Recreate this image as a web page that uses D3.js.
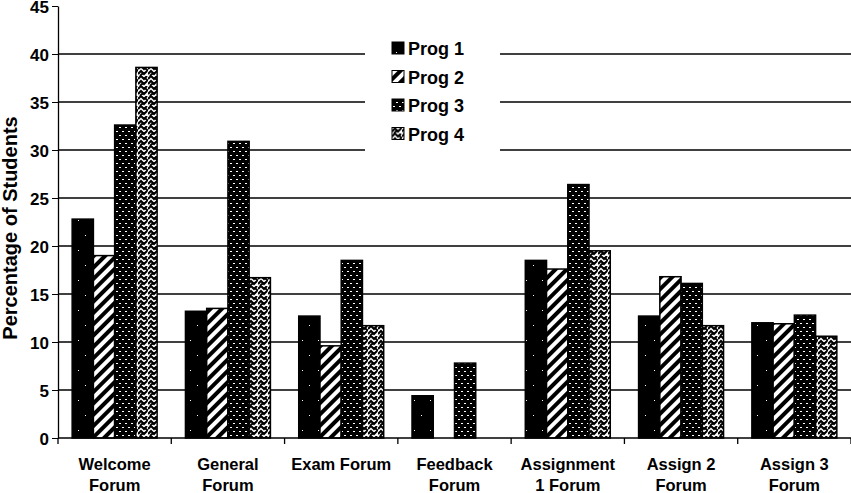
<!DOCTYPE html>
<html>
<head>
<meta charset="utf-8">
<script src="https://cdn.jsdelivr.net/npm/d3@7"></script>
<style>
  body { margin: 0; background: #fff; }
  text { font-family: "Liberation Sans", Arial, sans-serif; font-weight: bold; fill: #000; }
</style>
</head>
<body>
<div class="chart"></div>
<script>
let categories = [
  ["Welcome", "Forum"],
  ["General", "Forum"],
  ["Exam Forum"],
  ["Feedback", "Forum"],
  ["Assignment", "1 Forum"],
  ["Assign 2", "Forum"],
  ["Assign 3", "Forum"]
];
let seriesNames = ["Prog 1", "Prog 2", "Prog 3", "Prog 4"];
let prog1 = [22.8, 13.2, 12.7, 4.4, 18.5, 12.7, 12.0];
let prog2 = [19.0, 13.5, 9.6, 0, 17.6, 16.8, 11.9];
let prog3 = [32.6, 30.9, 18.5, 7.8, 26.4, 16.1, 12.8];
let prog4 = [38.6, 16.7, 11.7, 0, 19.5, 11.7, 10.6];
let yTicks = [0, 5, 10, 15, 20, 25, 30, 35, 40, 45];

let seriesValues = [prog1, prog2, prog3, prog4];
let patternIds = ["p1", "p2", "p3", "p4"];

let margin = { top: 6, right: 0, bottom: 55, left: 58 };
let width = 851 - margin.left - margin.right;
let height = 493 - margin.top - margin.bottom;

let svg = d3.select(".chart").append("svg")
  .attr("width", 851)
  .attr("height", 493);

// fill patterns
let defs = svg.append("defs");

let p1 = defs.append("pattern").attr("id", "p1").attr("patternUnits", "userSpaceOnUse")
  .attr("width", 16).attr("height", 30);
p1.append("rect").attr("width", 16).attr("height", 30).attr("fill", "#000");
p1.append("rect").attr("x", 4).attr("y", 4).attr("width", 1).attr("height", 1).attr("fill", "#fff");
p1.append("rect").attr("x", 11).attr("y", 19).attr("width", 1).attr("height", 1).attr("fill", "#fff");

let p2 = defs.append("pattern").attr("id", "p2").attr("patternUnits", "userSpaceOnUse")
  .attr("width", 8).attr("height", 8).attr("patternTransform", "rotate(45)");
p2.append("rect").attr("width", 8).attr("height", 8).attr("fill", "#fff");
p2.append("rect").attr("width", 4).attr("height", 8).attr("fill", "#000");

let p3 = defs.append("pattern").attr("id", "p3").attr("patternUnits", "userSpaceOnUse")
  .attr("width", 6).attr("height", 8);
p3.append("rect").attr("width", 6).attr("height", 8).attr("fill", "#000");
p3.append("rect").attr("x", 1).attr("y", 1).attr("width", 2).attr("height", 1).attr("fill", "#fff");
p3.append("rect").attr("x", 4).attr("y", 5).attr("width", 2).attr("height", 1).attr("fill", "#fff");

let p4 = defs.append("pattern").attr("id", "p4").attr("patternUnits", "userSpaceOnUse")
  .attr("width", 10).attr("height", 10);
p4.append("rect").attr("width", 10).attr("height", 10).attr("fill", "#fff");
p4.append("path").attr("d", "M0,3 L3,0 L6,3 L9,0 M0,8 L3,5 L6,8 L9,5 M2,10 L5,7 M7,2 L10,5")
  .attr("stroke", "#000").attr("stroke-width", 2).attr("fill", "none");

let g = svg.append("g").attr("transform", "translate(" + margin.left + "," + margin.top + ")");

let x0 = d3.scaleBand().domain(d3.range(categories.length)).range([0, width]).paddingInner(0.25).paddingOuter(0.125);
let x1 = d3.scaleBand().domain(d3.range(seriesNames.length)).range([0, x0.bandwidth()]);
let y = d3.scaleLinear().domain([0, 45]).range([height, 0]);

// gridlines
g.selectAll(".grid").data(yTicks.filter(t => t > 0 && t < 45)).enter().append("line")
  .attr("x1", 0).attr("x2", width)
  .attr("y1", d => y(d)).attr("y2", d => y(d))
  .attr("stroke", "#000").attr("stroke-width", 1.3);

// bars (zero values drawn as nothing)
seriesValues.forEach((vals, s) => {
  let pts = vals.map((v, i) => ({ i: i, v: v })).filter(d => d.v > 0);
  g.selectAll(".bar" + s).data(pts).enter().append("rect")
    .attr("x", d => x0(d.i) + x1(s))
    .attr("y", d => y(d.v))
    .attr("width", x1.bandwidth())
    .attr("height", d => height - y(d.v))
    .attr("fill", "url(#" + patternIds[s] + ")")
    .attr("stroke", "#000")
    .attr("stroke-width", 1.5);
});

// axes
let yAxis = d3.axisLeft(y).tickValues(yTicks).tickSize(6).tickSizeOuter(0);
let yG = g.append("g").call(yAxis);
yG.selectAll("text").style("font-size", "17px").attr("x", -9).attr("dy", "0.36em");
yG.select(".domain").attr("stroke-width", 1.3);

let bounds = d3.range(categories.length + 1).map(i => i * width / categories.length);
let xG = g.append("g").attr("transform", "translate(0," + height + ")");
xG.append("line").attr("x1", 0).attr("x2", width).attr("stroke", "#000").attr("stroke-width", 1.3);
xG.selectAll(".tk").data(bounds).enter().append("line")
  .attr("x1", d => d).attr("x2", d => d).attr("y1", 0).attr("y2", 6)
  .attr("stroke", "#000").attr("stroke-width", 1.3);

categories.forEach((lines, i) => {
  let t = xG.append("text")
    .attr("x", x0(i) + x0.bandwidth() / 2)
    .attr("y", 32)
    .attr("text-anchor", "middle")
    .style("font-size", "16.5px");
  lines.forEach((l, j) => {
    t.append("tspan").attr("x", x0(i) + x0.bandwidth() / 2).attr("dy", j === 0 ? 0 : 21).text(l);
  });
});

svg.append("text")
  .attr("transform", "translate(17,228) rotate(-90)")
  .attr("text-anchor", "middle")
  .style("font-size", "20px")
  .text("Percentage of Students");

// legend
let legend = svg.append("g").attr("transform", "translate(365,30)");
legend.append("rect").attr("width", 135).attr("height", 126).attr("fill", "#fff");
seriesNames.forEach((name, s) => {
  let row = legend.append("g").attr("transform", "translate(27," + (18 + s * 28.5) + ")");
  row.append("rect").attr("x", 0).attr("y", -6).attr("width", 12).attr("height", 12)
    .attr("fill", "url(#" + patternIds[s] + ")").attr("stroke", "#000").attr("stroke-width", 1);
  row.append("text").attr("x", 16).attr("y", 7).style("font-size", "18px").text(name);
});
</script>
</body>
</html>
